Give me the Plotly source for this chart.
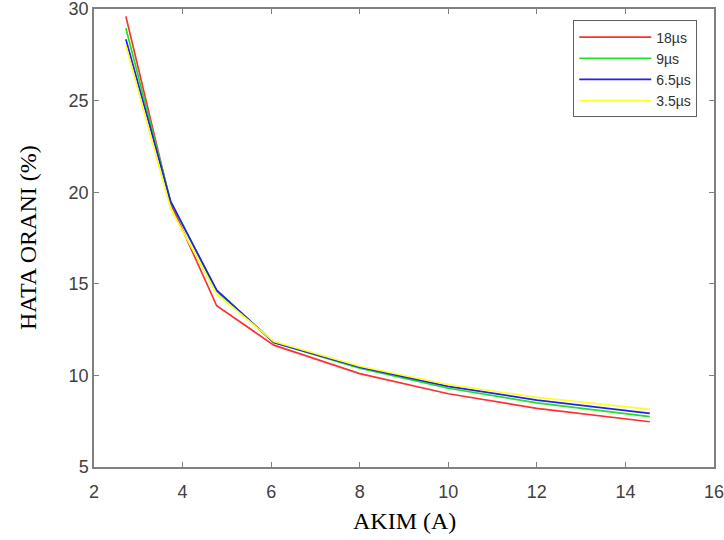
import plotly.graph_objects as go

current_a = [2.72, 3.73, 4.77, 6.06, 8.0, 10.0, 12.0, 14.55]
series_names = ["18µs", "9µs", "6.5µs", "3.5µs"]
err_18us = [29.6, 19.4, 13.8, 11.65, 10.1, 9.0, 8.2, 7.47]
err_9us = [28.95, 19.5, 14.6, 11.8, 10.4, 9.3, 8.5, 7.75]
err_6_5us = [28.35, 19.5, 14.65, 11.8, 10.45, 9.4, 8.65, 7.93]
err_3_5us = [28.0, 19.1, 14.45, 11.85, 10.5, 9.5, 8.8, 8.15]
colors = ["#ff3030", "#20e020", "#2020f0", "#ffff20"]
x_ticks = [2, 4, 6, 8, 10, 12, 14, 16]
y_ticks = [5, 10, 15, 20, 25, 30]

fig = go.Figure()
for name, ys, c in zip(series_names, [err_18us, err_9us, err_6_5us, err_3_5us], colors):
    fig.add_trace(go.Scatter(x=current_a, y=ys, mode="lines", name=name,
                             line=dict(color=c, width=1.7)))

axis_common = dict(showline=True, linecolor="#808080", linewidth=1.5, mirror="ticks",
                   ticks="inside", ticklen=5, tickcolor="#808080", showgrid=False,
                   zeroline=False, automargin=False, ticklabeloverflow="allow",
                   tickfont=dict(family="Liberation Sans, Arial", size=18, color="#404040"))

title_font = dict(family="Liberation Serif, Times New Roman", size=24, color="black")

fig.update_layout(
    width=724, height=540,
    margin=dict(l=94, r=10, t=9, b=73),
    paper_bgcolor="white", plot_bgcolor="white",
    xaxis=dict(range=[2, 16], tickvals=x_ticks, ticklabelstandoff=8, **axis_common),
    yaxis=dict(range=[5, 30], tickvals=y_ticks, **axis_common),
    legend=dict(x=0.973, y=0.975, xanchor="right", yanchor="top",
                bgcolor="white", bordercolor="#606060", borderwidth=1,
                font=dict(family="Liberation Sans, Arial", size=14, color="#303030"),
                tracegroupgap=0, itemwidth=72),
    showlegend=True,
    annotations=[
        dict(text="AKIM (A)", xref="paper", yref="paper", x=0.5, y=0,
             xanchor="center", yanchor="middle", yshift=-54, showarrow=False,
             font=title_font),
        dict(text="HATA ORANI (%)", xref="paper", yref="paper", x=0, y=0.5,
             xanchor="center", yanchor="middle", xshift=-66, textangle=-90,
             showarrow=False, font=title_font),
    ],
)

fig.write_html("out.html", config={"displayModeBar": False},
               post_script="document.body.style.margin='0';document.body.style.overflow='hidden';")
